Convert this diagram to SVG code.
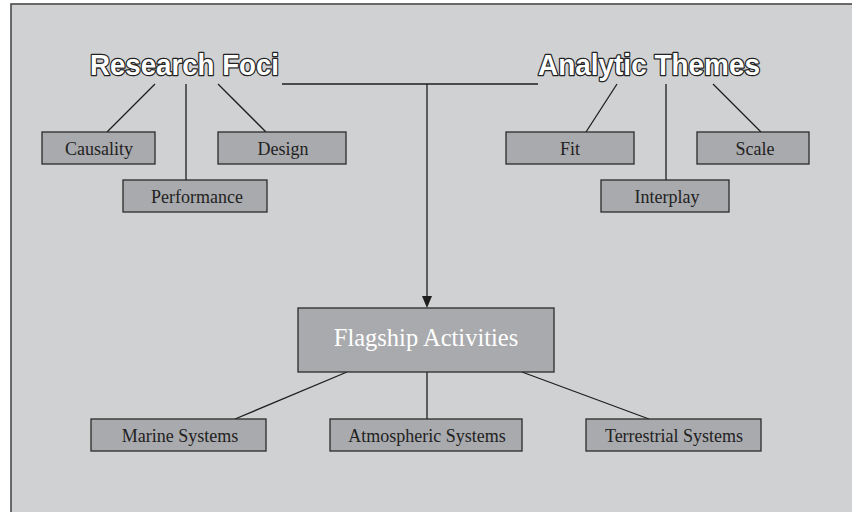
<svg xmlns="http://www.w3.org/2000/svg" width="852" height="512" viewBox="0 0 852 512">
<style>
.box{fill:#a9aaad;stroke:#2b2b2b;stroke-width:1.3}
.lbl{font-family:"Liberation Serif","Times New Roman",serif;font-size:18px;fill:#222;text-anchor:middle}
.big{font-family:"Liberation Serif","Times New Roman",serif;font-size:24.5px;fill:#ffffff;text-anchor:middle}
.hdr{font-family:"Liberation Sans",Arial,sans-serif;font-weight:bold;font-size:30px;fill:#ffffff;stroke:#222;stroke-width:2.6;paint-order:stroke;stroke-linejoin:round}
.ln{stroke:#1e1e1e;stroke-width:1.3;fill:none}
</style>
<rect x="0" y="0" width="852" height="512" fill="#ffffff"/>
<rect x="11" y="4" width="860" height="530" fill="#d0d1d3" stroke="#4a4a4a" stroke-width="1.6"/>

<g id="connectors">
<polyline class="ln" points="282,84 538,84"/>
<line class="ln" x1="427" y1="84" x2="427" y2="296"/>
<path d="M422,296 L432,296 L427,308 Z" fill="#1e1e1e"/>
<line class="ln" x1="155" y1="84" x2="107" y2="132"/>
<line class="ln" x1="186" y1="84" x2="186" y2="180"/>
<line class="ln" x1="218" y1="84" x2="266" y2="132"/>
<line class="ln" x1="617" y1="84" x2="586" y2="132"/>
<line class="ln" x1="666" y1="84" x2="666" y2="180"/>
<line class="ln" x1="713" y1="84" x2="761" y2="132"/>
<line class="ln" x1="347" y1="372" x2="235" y2="419"/>
<line class="ln" x1="427" y1="372" x2="427" y2="419"/>
<line class="ln" x1="522" y1="372" x2="649" y2="419"/>
</g>

<g id="research-foci"><text class="hdr" x="90" y="75" textLength="189" lengthAdjust="spacingAndGlyphs">Research Foci</text></g>
<g id="analytic-themes"><text class="hdr" x="538" y="75" textLength="222" lengthAdjust="spacingAndGlyphs">Analytic Themes</text></g>

<g id="causality"><rect class="box" x="42" y="132" width="113" height="32"/><text class="lbl" x="99" y="155">Causality</text></g>
<g id="design"><rect class="box" x="218" y="132" width="128" height="32"/><text class="lbl" x="283" y="155">Design</text></g>
<g id="performance"><rect class="box" x="123" y="180" width="144" height="32"/><text class="lbl" x="197" y="203">Performance</text></g>
<g id="fit"><rect class="box" x="506" y="132" width="128" height="32"/><text class="lbl" x="570" y="155">Fit</text></g>
<g id="scale"><rect class="box" x="697" y="132" width="112" height="32"/><text class="lbl" x="755" y="155">Scale</text></g>
<g id="interplay"><rect class="box" x="601" y="180" width="128" height="32"/><text class="lbl" x="667" y="203">Interplay</text></g>

<g id="flagship"><rect class="box" x="298" y="308" width="256" height="64"/><text class="big" x="426" y="346">Flagship Activities</text></g>

<g id="marine"><rect class="box" x="91" y="419" width="175" height="32"/><text class="lbl" x="180" y="442">Marine Systems</text></g>
<g id="atmospheric"><rect class="box" x="330" y="419" width="192" height="32"/><text class="lbl" x="427" y="442">Atmospheric Systems</text></g>
<g id="terrestrial"><rect class="box" x="586" y="419" width="175" height="32"/><text class="lbl" x="674" y="442">Terrestrial Systems</text></g>
</svg>
